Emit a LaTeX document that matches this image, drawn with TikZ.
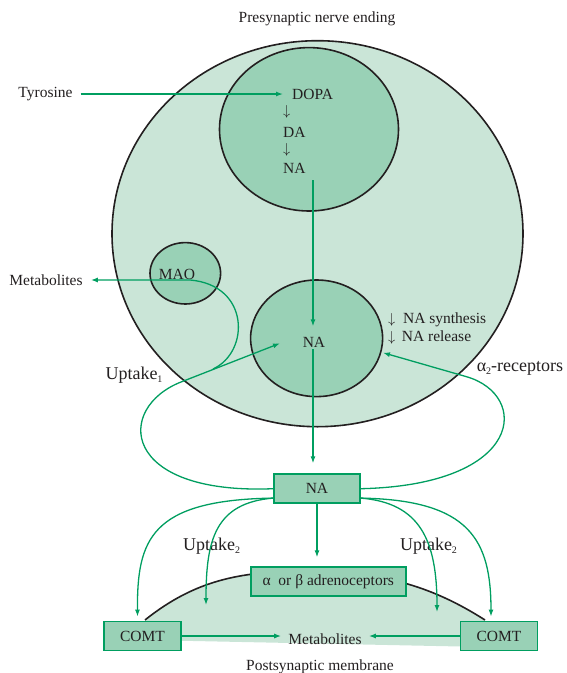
\documentclass[tikz,border=0pt]{standalone}
\usepackage{fontspec}
\setmainfont{Liberation Serif}
\usetikzlibrary{arrows.meta}
\definecolor{cellfill}{RGB}{202,229,215}
\definecolor{vesfill}{RGB}{153,209,182}
\definecolor{nagreen}{RGB}{0,158,96}
\definecolor{ink}{RGB}{35,31,32}
\newcommand{\dnarrow}{$\big\downarrow$}
\newcommand{\lowsub}[1]{\raisebox{-3pt}{\fontsize{10}{12}\selectfont #1}}

\begin{document}
\begin{tikzpicture}[x=1pt,y=-1pt,
  every node/.style={text=ink,font=\fontsize{15.5}{18}\selectfont,inner sep=1pt},
  lbl/.style={font=\fontsize{18}{21}\selectfont},
  flow/.style={nagreen,line width=1.3pt,-{Latex[length=7pt,width=5pt]}},
  sac/.style={draw=ink,line width=1.6pt,fill=vesfill},
  nabox/.style={draw=nagreen,line width=1.8pt,fill=vesfill,minimum height=29pt,inner sep=0pt}]
  \useasboundingbox (0,0) rectangle (567,673);
  % Nerve ending and vesicles
  \draw[ink,line width=1.6pt,fill=cellfill] (317.5,233.7) ellipse [x radius=205.5pt,y radius=193pt];
  \draw[sac] (309,129.3) ellipse [x radius=89.5pt,y radius=81.7pt];
  \draw[sac] (185.3,273.3) ellipse [x radius=35.3pt,y radius=30.7pt];
  \draw[sac] (316.6,338.3) ellipse [x radius=66pt,y radius=58.3pt];
  % Postsynaptic membrane
  \fill[cellfill] (145,620) .. controls (195,580) and (240,572) .. (300,571)
    .. controls (380,571) and (430,585) .. (485,620) -- (485,647) -- (145,640) -- cycle;
  \draw[ink,line width=1.6pt] (145,620) .. controls (195,580) and (240,572) .. (300,571)
    .. controls (380,571) and (430,585) .. (485,620);
  % Labels
  \node (title) at (317,19) {Presynaptic nerve ending};
  \node (tyr) at (45.5,94) {Tyrosine};
  \node[anchor=west] (dopa) at (291,94) {DOPA};
  \node[anchor=west] (ar1) at (282,112) {\dnarrow};
  \node[anchor=west] (da) at (282,132) {DA};
  \node[anchor=west] (ar2) at (282,150) {\dnarrow};
  \node[anchor=west] (na1) at (282,168) {NA};
  \node (mao) at (177,274) {MAO};
  \node (met1) at (46,280) {Metabolites};
  \node (na2) at (314,342.7) {NA};
  \node[anchor=west,align=left] (fb) at (387,328.3) {\dnarrow\enspace NA synthesis\\\dnarrow\, NA release};
  \node[lbl] (up1) at (134,375) {Uptake\lowsub{1}};
  \node[lbl] (a2) at (520,368) {α\lowsub{2}-receptors};
  \node[nabox,minimum width=86pt] (nab) at (317,488.7) {NA};
  \node[lbl] (up2l) at (211.6,546) {Uptake\lowsub{2}};
  \node[lbl] (up2r) at (428.5,546) {Uptake\lowsub{2}};
  \node[nabox,minimum width=155pt] (adr) at (328.3,581.7) {α\enspace or β adrenoceptors};
  \node[nabox,minimum width=77pt] (comtl) at (142.5,636) {COMT};
  \node[nabox,minimum width=77pt] (comtr) at (499,636) {COMT};
  \node (met2) at (325,639) {Metabolites};
  \node (post) at (320,667) {Postsynaptic membrane};
  % Synthesis and release
  \draw[flow] ([xshift=7pt]tyr.east) -- ([xshift=-8pt]dopa.west);
  \coordinate (out1) at (313,180);
  \draw[flow,shorten >=10pt] (out1) -- (out1 |- na2.north);
  \draw[flow,shorten >=10pt] (out1 |- na2.south) -- (out1 |- nab.north);
  % Uptake 1, MAO and alpha2 feedback
  \coordinate (j1) at (213,369);
  \coordinate (u1) at (280,343.3);
  \coordinate (u2) at (383,352.7);
  \draw[flow] (j1) .. controls (250,352) and (250,285) .. (190,280) -- ([xshift=7pt]met1.east);
  \draw[flow] (nab.west) .. controls (120,495) and (115,408) .. (181,382) -- (u1);
  \draw[flow] (nab.east) .. controls (525,485) and (530,395) .. (466.5,376.7) -- (u2);
  % Uptake 2 and COMT
  \coordinate (t2l) at (206,605);
  \coordinate (t2r) at (437,612);
  \draw[flow] ([yshift=6pt]nab.south west) .. controls (150,500) and (137,540) .. ([xshift=-5pt,yshift=4pt]comtl.north);
  \draw[flow] ([yshift=6pt]nab.south west) .. controls (215,503) and (206,540) .. (t2l);
  \draw[flow] ([yshift=6pt]nab.south east) .. controls (420,503) and (437,540) .. (t2r);
  \draw[flow] ([yshift=6pt]nab.south east) .. controls (470,500) and (491,540) .. ([xshift=-8pt,yshift=4pt]comtr.north);
  \draw[flow,shorten >=9pt] (nab.south) -- (nab.south |- adr.north);
  \draw[flow,shorten >=6pt] (comtl.east) -- (comtl.east -| met2.west);
  \draw[flow,shorten >=6pt] (comtr.west) -- (comtr.west -| met2.east);
\end{tikzpicture}
\end{document}
